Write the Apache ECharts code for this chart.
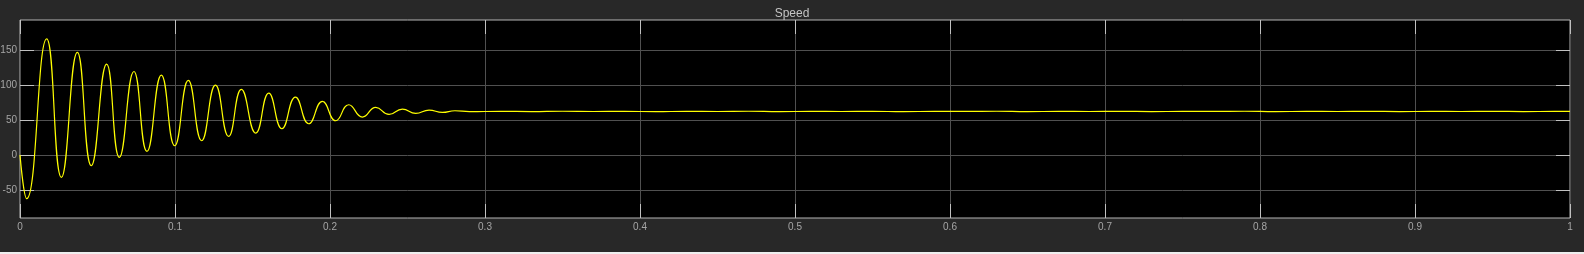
<!DOCTYPE html>
<html>
<head>
<meta charset="utf-8">
<style>
html,body{margin:0;padding:0;background:#282828;}
#c{width:1584px;height:254px;}
</style>
<script src="https://cdn.jsdelivr.net/npm/echarts@6/dist/echarts.min.js"></script>
</head>
<body>
<div id="c"></div>
<script>
// Transient: peaks and troughs (time in s, speed)
const transientTime = [0, 0.0043, 0.0172, 0.0267, 0.037, 0.046, 0.0559, 0.0641, 0.0735, 0.0819,
  0.0912, 0.0998, 0.1086, 0.1172, 0.1261, 0.1346, 0.1428, 0.1521, 0.1605, 0.169,
  0.1777, 0.1863, 0.1951, 0.2037, 0.2121, 0.2209, 0.2295, 0.2381, 0.2467, 0.2553,
  0.2639, 0.2725, 0.2806];
const transientSpeed = [0, -62.4, 166, -32, 146.6, -15.3, 130, -3.4, 119.4, 5.2,
  114.3, 13.3, 106.6, 20.4, 100, 26.6, 93.7, 31.4, 88.6, 37.6,
  82.9, 44.7, 76.6, 49, 71.9, 54.3, 68, 58, 65.7, 59.4,
  64.3, 60.9, 63.3];
// Steady state (small ripple around ~62)
const steadyTime = [0.29, 0.31, 0.33, 0.35, 0.37, 0.39, 0.41, 0.43, 0.45, 0.47,
  0.49, 0.51, 0.53, 0.55, 0.57, 0.59, 0.61, 0.63, 0.65, 0.67,
  0.69, 0.71, 0.73, 0.75, 0.77, 0.79, 0.81, 0.83, 0.85, 0.87,
  0.89, 0.91, 0.93, 0.95, 0.97, 0.99, 1.0];
const steadySpeed = [62.0, 62.5, 62.1, 62.6, 62.2, 62.4, 62.0, 62.5, 62.2, 62.6,
  62.1, 62.4, 62.2, 62.5, 62.0, 62.4, 62.3, 62.6, 62.1, 62.4,
  62.2, 62.5, 62.1, 62.4, 62.3, 62.6, 62.1, 62.4, 62.2, 62.5,
  62.1, 62.4, 62.2, 62.5, 62.1, 62.4, 62.3];
const xTicks = [0, 0.1, 0.2, 0.3, 0.4, 0.5, 0.6, 0.7, 0.8, 0.9, 1];
const yTicks = [-50, 0, 50, 100, 150];
const yMin = -90, yMax = 193;

const data = [];
transientTime.forEach((t, i) => data.push([t, transientSpeed[i]]));
steadyTime.forEach((t, i) => data.push([t, steadySpeed[i]]));

const labelStyle = {color: '#a6a6a6', fontSize: 10, fontFamily: 'Liberation Sans, Arial, sans-serif'};
const chart = echarts.init(document.getElementById('c'));
chart.setOption({
  backgroundColor: '#282828',
  animation: false,
  title: {
    text: 'Speed', left: 'center', top: 3,
    textStyle: {color: '#c4c4c4', fontSize: 12, fontWeight: 'normal', fontFamily: 'Liberation Sans, Arial, sans-serif'}
  },
  grid: {left: 20, right: 14, top: 20, bottom: 36, show: true, backgroundColor: '#000000',
    borderColor: '#b4b4b4', borderWidth: 1, containLabel: false, outerBoundsMode: 'none'},
  xAxis: [{
    type: 'value', min: 0, max: 1, interval: 0.1, position: 'bottom',
    axisLine: {show: false, onZero: false},
    axisTick: {show: true, inside: true, length: 14, customValues: xTicks, lineStyle: {color: '#c0c0c0'}},
    axisLabel: Object.assign({margin: 4, customValues: xTicks, formatter: v => String(Math.round(v * 10) / 10)}, labelStyle),
    splitLine: {show: true, lineStyle: {color: '#505050', width: 1}}
  }, {
    type: 'value', min: 0, max: 1, interval: 0.1, position: 'top',
    axisLine: {show: false, onZero: false},
    axisTick: {show: true, inside: true, length: 14, customValues: xTicks, lineStyle: {color: '#c0c0c0'}},
    axisLabel: {show: false}, splitLine: {show: false}
  }],
  yAxis: [{
    type: 'value', min: yMin, max: yMax, position: 'left',
    axisLine: {show: false, onZero: false},
    axisTick: {show: true, inside: true, length: 14, customValues: yTicks, lineStyle: {color: '#c0c0c0'}},
    axisLabel: Object.assign({margin: 3, customValues: yTicks}, labelStyle),
    splitLine: {show: true, lineStyle: {color: '#505050', width: 1}}
  }, {
    type: 'value', min: yMin, max: yMax, position: 'right',
    axisLine: {show: false, onZero: false},
    axisTick: {show: true, inside: true, length: 14, customValues: yTicks, lineStyle: {color: '#c0c0c0'}},
    axisLabel: {show: false, customValues: yTicks}, splitLine: {show: false}
  }],
  graphic: [{type: 'rect', shape: {x: 0, y: 252, width: 1584, height: 2}, style: {fill: '#eeeeee'}, silent: true}],
  series: [{
    type: 'line', data: data, smooth: 0.5, showSymbol: false,
    lineStyle: {color: '#ffff00', width: 1.2}, xAxisIndex: 0, yAxisIndex: 0
  }]
});
</script>
</body>
</html>
